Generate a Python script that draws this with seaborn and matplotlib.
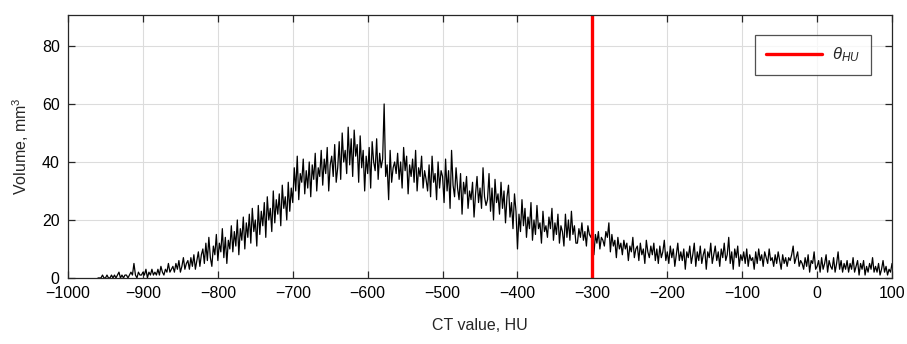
import numpy as np
import pandas as pd
import matplotlib
matplotlib.use("Agg")
import matplotlib.pyplot as plt
import seaborn as sns

# ---- data ----
hu_values = list(range(-960, 101, 2))
volume = [
    0, 0, 0, 1, 0, 0, 1, 0, 0, 1,          # -960
    0, 1, 0, 1, 2, 0, 1, 0, 1, 1,          # -940
    0, 1, 2, 1, 5, 1, 0, 2, 1, 1,          # -920
    2, 1, 3, 0, 2, 1, 3, 1, 2, 1,          # -900
    3, 1, 4, 2, 1, 3, 2, 5, 2, 3,          # -880
    4, 2, 5, 3, 6, 2, 4, 7, 3, 5,          # -860
    6, 3, 7, 4, 8, 3, 6, 9, 4, 8,          # -840
    10, 5, 12, 6, 14, 7, 4, 11, 8, 15,     # -820
    6, 12, 9, 17, 7, 14, 5, 13, 10, 18,    # -800
    9, 16, 11, 20, 8, 17, 13, 21, 10, 19,  # -780
    14, 22, 12, 24, 16, 20, 11, 25, 15, 23,  # -760
    18, 26, 14, 28, 20, 24, 16, 30, 19, 27,  # -740
    22, 29, 18, 32, 24, 28, 20, 33, 23, 31,  # -720
    26, 38, 30, 42, 27, 36, 33, 41, 29, 37,  # -700
    31, 40, 28, 39, 34, 43, 30, 38, 35, 44,  # -680
    32, 41, 36, 45, 30, 39, 42, 35, 46, 33,  # -660
    38, 47, 34, 50, 40, 44, 36, 52, 39, 48,  # -640
    35, 51, 42, 46, 33, 49, 38, 44, 30, 42,  # -620
    36, 45, 31, 47, 40, 37, 48, 34, 43, 38,  # -600
    41, 60, 35, 39, 27, 44, 33, 38, 40, 36,  # -580
    43, 34, 40, 31, 45, 37, 42, 29, 39, 35,  # -560
    41, 33, 44, 30, 38, 35, 42, 31, 37, 34,  # -540
    30, 39, 28, 42, 33, 36, 27, 40, 31, 37,  # -520
    35, 26, 41, 30, 37, 24, 44, 32, 28, 38,  # -500
    31, 27, 36, 22, 33, 29, 35, 24, 30, 27,  # -480
    33, 21, 29, 35, 26, 31, 24, 38, 28, 25,  # -460
    27, 36, 23, 31, 20, 34, 26, 29, 22, 33,  # -440
    24, 30, 19, 28, 32, 21, 26, 17, 29, 23,  # -420
    10, 22, 16, 27, 18, 24, 14, 21, 17, 26,  # -400
    13, 20, 15, 25, 17, 19, 12, 23, 16, 18,  # -380
    14, 21, 17, 24, 13, 19, 15, 22, 12, 18,  # -360
    16, 11, 22, 14, 20, 13, 23, 15, 18, 12,  # -340
    12, 17, 14, 19, 13, 16, 11, 18, 15, 14,  # -320
    17, 8, 15, 12, 16, 10, 14, 13, 11, 16,   # -300
    14, 19, 9, 15, 11, 13, 7, 14, 10, 12,    # -280
    8, 13, 10, 12, 6, 11, 9, 14, 7, 10,      # -260
    11, 6, 12, 8, 10, 5, 13, 9, 7, 11,       # -240
    8, 12, 6, 10, 5, 11, 7, 9, 13, 6,        # -220
    9, 5, 11, 7, 10, 4, 8, 12, 6, 9,         # -200
    6, 10, 3, 9, 7, 11, 5, 8, 12, 4,         # -180
    9, 6, 11, 5, 8, 10, 3, 9, 7, 12,         # -160
    5, 8, 11, 6, 9, 4, 10, 7, 12, 6,         # -140
    8, 14, 5, 9, 3, 10, 7, 11, 4, 8,         # -120
    6, 9, 5, 10, 4, 8, 6, 7, 3, 9,           # -100
    5, 10, 6, 8, 4, 9, 7, 5, 10, 6,          # -80
    7, 4, 8, 5, 9, 6, 3, 8, 5, 7,            # -60
    4, 7, 6, 8, 11, 5, 7, 9, 4, 6,           # -40
    5, 3, 7, 4, 8, 2, 6, 5, 9, 3,            # -20
    4, 6, 2, 7, 3, 5, 8, 2, 6, 4,            # 0
    3, 7, 2, 5, 9, 3, 6, 2, 5, 3,            # 20
    6, 2, 5, 3, 7, 2, 4, 6, 1, 5,            # 40
    3, 6, 1, 4, 2, 5, 3, 7, 2, 4,            # 60
    2, 5, 1, 3, 6, 2, 4, 1, 3, 2,            # 80
    5,                                       # 100
]
threshold_hu = -300
threshold_label = r"$\theta_{HU}$"
x_ticks = list(range(-1000, 101, 100))
y_ticks = [0, 20, 40, 60, 80]

assert len(hu_values) == len(volume)
df = pd.DataFrame({"hu": hu_values, "volume": volume})

# ---- style ----
sns.set_style("white")
plt.rcParams["font.family"] = ["Liberation Sans", "DejaVu Sans"]
plt.rcParams["mathtext.fontset"] = "custom"
plt.rcParams["mathtext.it"] = "Liberation Sans:italic"
plt.rcParams["mathtext.rm"] = "Liberation Sans"

fig = plt.figure(figsize=(9.07, 3.44), dpi=100)
ax = fig.add_axes([0.075, 0.192, 0.9085, 0.7645])

sns.lineplot(data=df, x="hu", y="volume", ax=ax, color="black",
             linewidth=0.9, estimator=None, legend=False)
ax.axvline(threshold_hu, color="#ff0000", linewidth=2.4, label=threshold_label)

ax.set_xlim(-1000, 100)
ax.set_ylim(0, 90.7)
ax.set_xticks(x_ticks)
ax.set_yticks(y_ticks)
ax.grid(True, color="#dcdcdc", linewidth=0.8)
ax.set_axisbelow(True)
for s in ax.spines.values():
    s.set_visible(True)
    s.set_color("#262626")
    s.set_linewidth(0.9)
ax.tick_params(direction="in", length=5, width=0.9, colors="#262626",
               labelcolor="black", labelsize=11.5, top=True, right=True,
               bottom=True, left=True, pad=6)

ax.set_xlabel("CT value, HU", fontsize=11.5, labelpad=12)
ax.set_ylabel("Volume, mm$^3$", fontsize=11.5, labelpad=8)

leg = ax.legend(loc="upper right", bbox_to_anchor=(0.9745, 0.924),
                borderaxespad=0.0, fontsize=12, frameon=True, fancybox=False,
                handlelength=3.4, borderpad=0.65, handletextpad=0.6)
leg.get_frame().set_edgecolor("#262626")
leg.get_frame().set_linewidth(0.9)

fig.savefig("out.png", dpi=100)
